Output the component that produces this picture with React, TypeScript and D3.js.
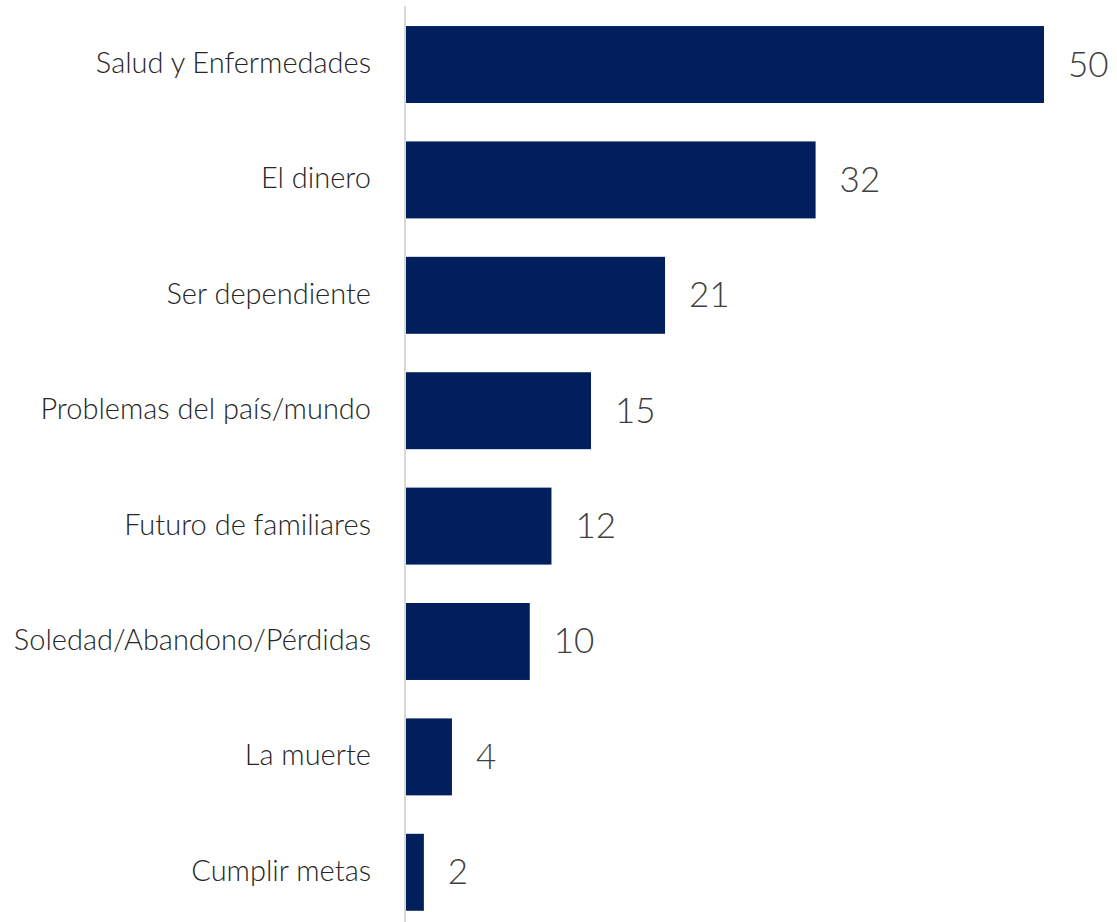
import React from "react";
import * as d3 from "d3";

const categories = [
  "Salud y Enfermedades",
  "El dinero",
  "Ser dependiente",
  "Problemas del país/mundo",
  "Futuro de familiares",
  "Soledad/Abandono/Pérdidas",
  "La muerte",
  "Cumplir metas",
];
const values = [50, 32.1, 20.3, 14.5, 11.4, 9.7, 3.6, 1.4];
const valueLabels = ["50", "32", "21", "15", "12", "10", "4", "2"];

const W = 1117;
const H = 922;
const axisX = 405;

export default function App() {
  const x = d3.scaleLinear().domain([0, 50]).range([axisX + 1, 1044]);
  const y = d3
    .scaleBand<string>()
    .domain(categories)
    .range([6.8, 930])
    .paddingInner(0.333)
    .paddingOuter(0.1667);
  const font = "Lato, 'Open Sans', sans-serif";
  return (
    <svg
      width={W}
      height={H}
      style={{ position: "absolute", left: 0, top: 0 }}
      fontFamily={font}
    >
      <line x1={axisX} x2={axisX} y1={6} y2={H} stroke="#d9d9d9" strokeWidth={2} />
      {categories.map((c, i) => {
        const y0 = y(c)!;
        const bw = y.bandwidth();
        const xe = x(values[i]);
        return (
          <g key={c}>
            <rect x={x(0)} y={y0} width={xe - x(0)} height={bw} fill="#001F5C" />
            <text
              x={371}
              y={y0 + bw / 2 - 3}
              textAnchor="end"
              dominantBaseline="central"
              fontSize={29}
              fontWeight={300}
              fill="#262626"
            >
              {c}
            </text>
            <text
              x={xe + 24}
              y={y0 + bw / 2 - 2}
              dominantBaseline="central"
              fontSize={35}
              fontWeight={300}
              fill="#404040"
            >
              {valueLabels[i]}
            </text>
          </g>
        );
      })}
    </svg>
  );
}
